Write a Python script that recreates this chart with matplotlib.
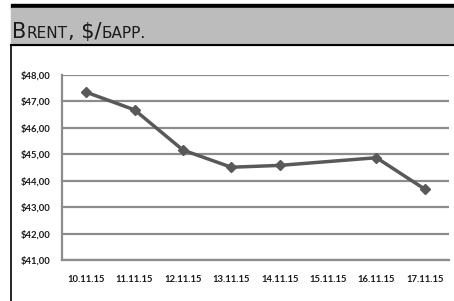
import matplotlib
matplotlib.use("Agg")
import matplotlib.pyplot as plt
from matplotlib.patches import Rectangle
from matplotlib.lines import Line2D
import numpy as np

dates = ["10.11.15", "11.11.15", "12.11.15", "13.11.15",
         "14.11.15", "15.11.15", "16.11.15", "17.11.15"]
# no quote on 15.11.15 (weekend), line joins 14.11 and 16.11
price = [47.35, 46.68, 45.16, 44.51, 44.58, np.nan, 44.87, 43.68]
yticks = [41, 42, 43, 44, 45, 46, 47, 48]

W, H = 454, 301
fig = plt.figure(figsize=(W / 100, H / 100), dpi=100)

def fx(px): return px / W
def fy(py): return 1 - py / H

# frame: black strip, grey title band, border lines
fig.add_artist(Rectangle((fx(10.5), fy(8)), 1 - fx(10.5), 4 / H,
                         color="black", transform=fig.transFigure))
fig.add_artist(Rectangle((fx(10.5), fy(44.5)), 1 - fx(10.5), 36.5 / H,
                         color="#bcbcbc", transform=fig.transFigure))
fig.add_artist(Line2D([fx(10.5), 1], [fy(45), fy(45)], color="black", lw=1.5,
                      transform=fig.transFigure))
fig.add_artist(Line2D([fx(11.2), fx(11.2)], [fy(45), 0], color="black", lw=1.2,
                      transform=fig.transFigure))

# small-caps title pieced together
tfam = ["Liberation Sans Narrow", "DejaVu Sans Condensed", "DejaVu Sans"]
parts = [("B", 15), ("RENT", 11), (", $/", 15), ("БАРР.", 11)]
r = fig.canvas.get_renderer()
x = 12.5
for s, size in parts:
    t = fig.text(fx(x), fy(38), s, fontsize=size, family=tfam,
                 color="#1a1a1a", va="baseline", ha="left")
    x += t.get_window_extent(r).width

ax = fig.add_axes([fx(62), fy(260), fx(449 - 62), (260 - 75) / H])
xs = np.arange(len(dates))
p = np.array(price)
ok = ~np.isnan(p)
ax.plot(xs[ok], p[ok], color="#595959", lw=2.5, marker="D", ms=5.5,
        solid_joinstyle="round")

ax.set_xlim(-0.5, len(dates) - 0.5)
ax.set_ylim(41, 48)
ax.set_yticks(yticks)
ax.set_yticklabels([f"${v:.2f}".replace(".", ",") for v in yticks])
ax.set_xticks(xs)
ax.set_xticklabels(dates)
lab = dict(fontsize=6.8, fontweight="bold", family=["Lato", "DejaVu Sans"],
           color="#1a1a1a")
for tl in ax.get_xticklabels() + ax.get_yticklabels():
    tl.set(**lab)
ax.tick_params(length=0, pad=8)
ax.tick_params(axis="x", pad=11)
ax.grid(axis="y", color="#8c8c8c", lw=1.6)
ax.set_axisbelow(True)
for s in ["top", "right"]:
    ax.spines[s].set_visible(False)
for s in ["left", "bottom"]:
    ax.spines[s].set_color("#8c8c8c")
    ax.spines[s].set_linewidth(1.6)

fig.savefig("out.png", dpi=100)
